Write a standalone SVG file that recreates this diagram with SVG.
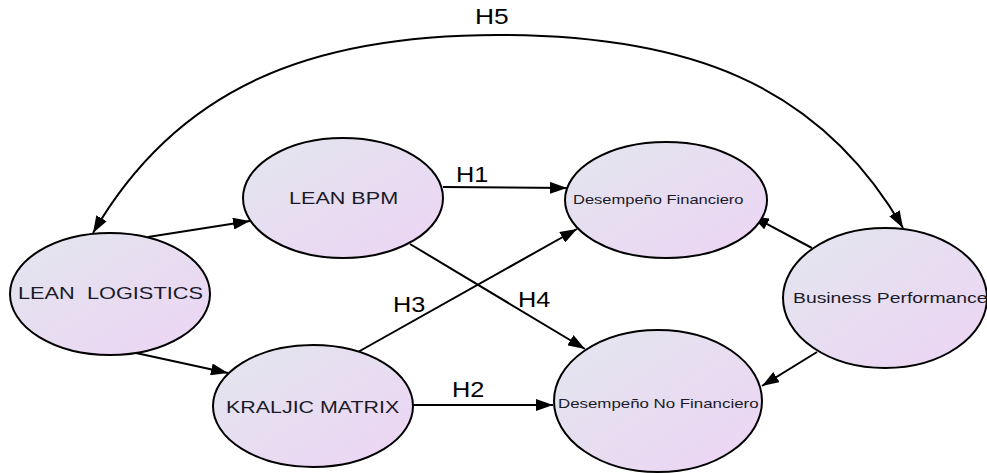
<svg xmlns="http://www.w3.org/2000/svg" width="987" height="473" viewBox="0 0 987 473">
  <defs>
    <linearGradient id="nodeFill" x1="0" y1="0" x2="1" y2="1">
      <stop offset="0" stop-color="#e2e6ee"/>
      <stop offset="1" stop-color="#edd4f4"/>
    </linearGradient>
    <marker id="arrow" viewBox="0 0 17 12" refX="17" refY="6" markerWidth="17" markerHeight="12" markerUnits="userSpaceOnUse" orient="auto-start-reverse">
      <path d="M0,0 L17,6 L0,12 z" fill="#000"/>
    </marker>
  </defs>
  <style>
    .node ellipse { fill: url(#nodeFill); stroke: #000; stroke-width: 2; }
    .node text { font-family: "Liberation Sans", Arial, sans-serif; fill: #1a1a28; text-anchor: start; }
    .edge { fill: none; stroke: #000; stroke-width: 2; marker-end: url(#arrow); }
    .lbl { font-family: "Liberation Sans", Arial, sans-serif; font-size: 22px; fill: #000; }
  </style>
  <rect width="987" height="473" fill="#fff"/>

  <g id="connectors">
    <path class="edge" d="M93,233 C178,86 313,35 498,35 C683,35 818,81 903,228" style="marker-start:url(#arrow)"/>
    <path class="edge" d="M148,237 L250,221"/>
    <path class="edge" d="M136,353 L228,373"/>
    <path class="edge" d="M443,187 L567,188"/>
    <path class="edge" d="M410,244 L585,349"/>
    <path class="edge" d="M358,352 L577,229"/>
    <path class="edge" d="M412,405 L553,405"/>
    <path class="edge" d="M812,248 L752,216"/>
    <path class="edge" d="M817,352 L762,386"/>
    <text class="lbl" transform="translate(475,24) scale(1.2,1)">H5</text>
    <text class="lbl" transform="translate(456,182) scale(1.15,1)">H1</text>
    <text class="lbl" transform="translate(393,312) scale(1.15,1)">H3</text>
    <text class="lbl" transform="translate(518,307) scale(1.15,1)">H4</text>
    <text class="lbl" transform="translate(452,397) scale(1.15,1)">H2</text>
  </g>

  <g id="lean-logistics" class="node">
    <ellipse cx="110" cy="294" rx="100" ry="61"/>
    <text transform="translate(18,299) scale(1.28,1)" font-size="17" xml:space="preserve">LEAN  LOGISTICS</text>
  </g>
  <g id="lean-bpm" class="node">
    <ellipse cx="343" cy="198" rx="100" ry="60"/>
    <text transform="translate(289,204) scale(1.27,1)" font-size="17">LEAN BPM</text>
  </g>
  <g id="kraljic-matrix" class="node">
    <ellipse cx="313" cy="406" rx="100" ry="61"/>
    <text transform="translate(226,413) scale(1.26,1)" font-size="17">KRALJIC MATRIX</text>
  </g>
  <g id="desempeno-financiero" class="node">
    <ellipse cx="666" cy="200" rx="101" ry="58"/>
    <text transform="translate(573,204) scale(1.27,1)" font-size="13">Desempeño Financiero</text>
  </g>
  <g id="desempeno-no-financiero" class="node">
    <ellipse cx="658" cy="401" rx="104" ry="71"/>
    <text transform="translate(558,408) scale(1.25,1)" font-size="13.5">Desempeño No Financiero</text>
  </g>
  <g id="business-performance" class="node">
    <ellipse cx="885" cy="298" rx="102" ry="70"/>
    <text transform="translate(793,303) scale(1.29,1)" font-size="15">Business Performance</text>
  </g>
</svg>
